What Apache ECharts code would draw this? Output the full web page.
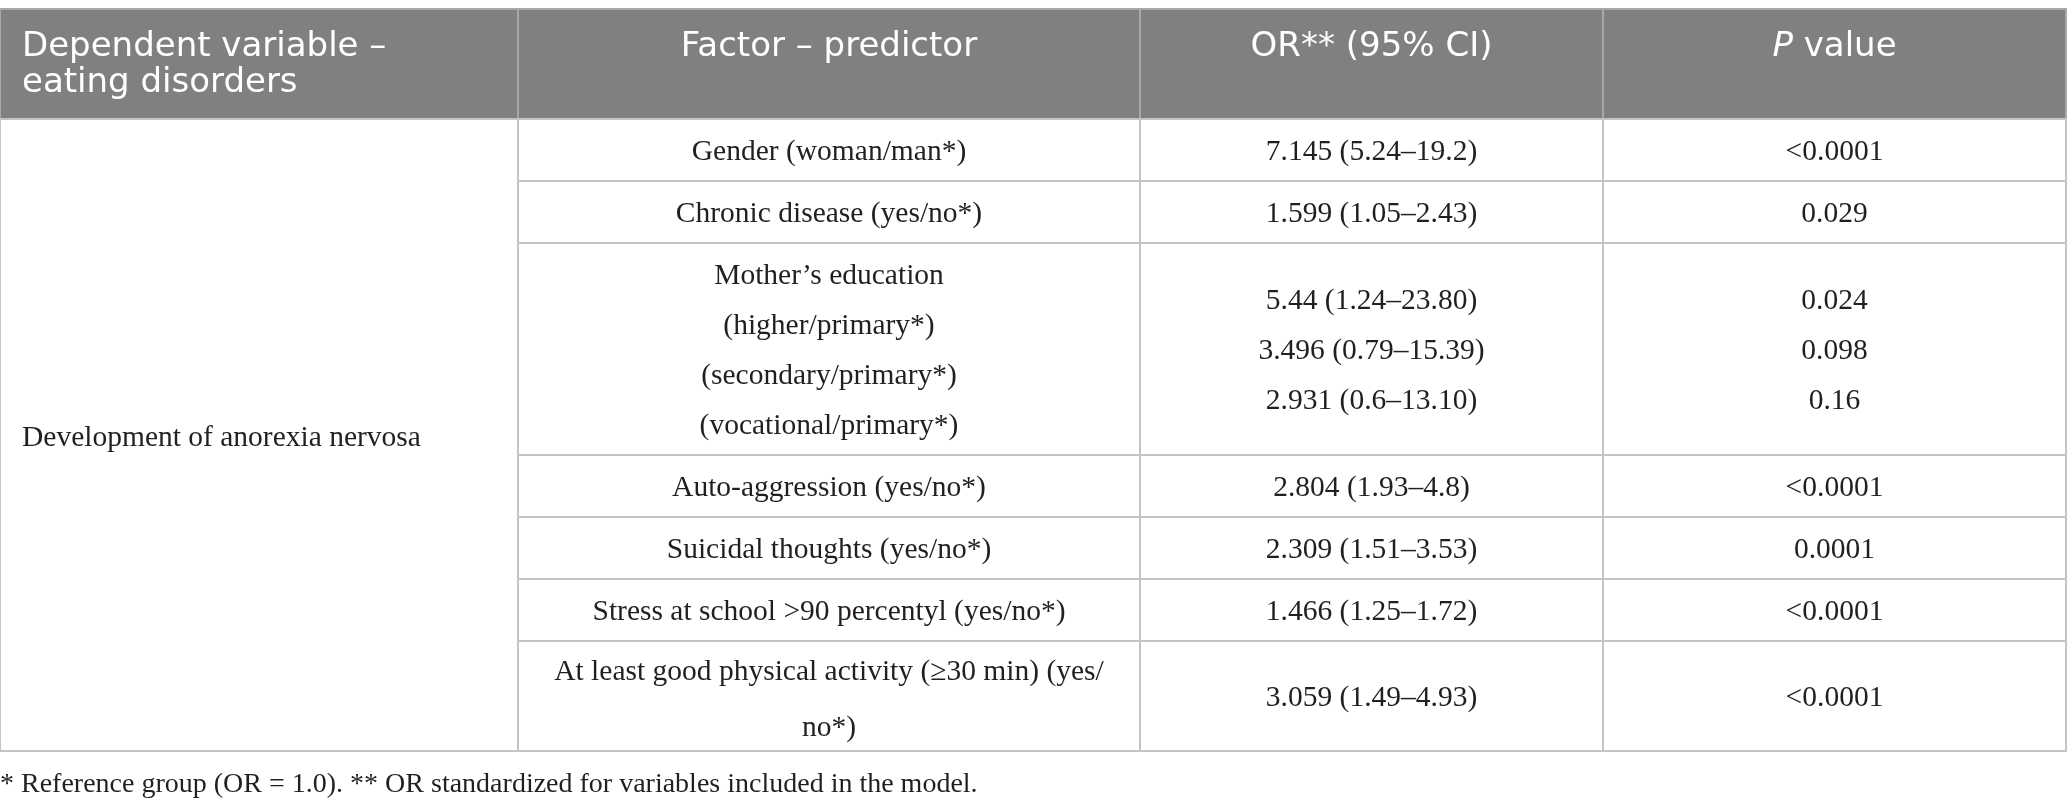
<!DOCTYPE html>
<html lang="en">
<head>
    <meta charset="UTF-8">
    <script src="https://cdn.jsdelivr.net/npm/echarts@6.0.0/dist/echarts.min.js"></script>
    <title>Anorexia nervosa predictors</title>
    <style>
        html,
        body {
            margin: 0;
            padding: 0;
            background: #fff;
            overflow: hidden;
        }
        #main {
            width: 2067px;
            height: 811px;
        }
    </style>
</head>
<body>
<div id="main"></div>
<script>
    // table content
    var headers = ['Dependent variable –\neating disorders', 'Factor – predictor', 'OR** (95% CI)', '{i|P} value'];
    var dependentVar = 'Development of anorexia nervosa';
    var factors = [
        'Gender (woman/man*)',
        'Chronic disease (yes/no*)',
        'Mother’s education\n(higher/primary*)\n(secondary/primary*)\n(vocational/primary*)',
        'Auto-aggression (yes/no*)',
        'Suicidal thoughts (yes/no*)',
        'Stress at school >90 percentyl (yes/no*)',
        'At least good physical activity (≥30 min) (yes/\nno*)'
    ];
    var orValues = [
        '7.145 (5.24–19.2)',
        '1.599 (1.05–2.43)',
        '5.44 (1.24–23.80)\n3.496 (0.79–15.39)\n2.931 (0.6–13.10)',
        '2.804 (1.93–4.8)',
        '2.309 (1.51–3.53)',
        '1.466 (1.25–1.72)',
        '3.059 (1.49–4.93)'
    ];
    var pValues = ['<0.0001', '0.029', '0.024\n0.098\n0.16', '<0.0001', '0.0001', '<0.0001', '<0.0001'];
    var footnote = '* Reference group (OR = 1.0). ** OR standardized for variables included in the model.';

    // layout (table units)
    var colWidths = [518, 622, 463, 463];
    var headerHeight = 110;
    var rowHeights = [62, 62, 212, 62, 62, 62, 110];

    var xs = [0];
    colWidths.forEach(function (w, i) { xs.push(xs[i] + w); });
    var ys = [headerHeight];
    rowHeights.forEach(function (h, i) { ys.push(ys[i] + h); });
    var totalW = xs[xs.length - 1];
    var totalH = ys[ys.length - 1];

    // cells: [x0, x1, y0, y1, kind, text, col, lineHeight, yShift]
    var cells = [];
    headers.forEach(function (t, c) {
        cells.push([xs[c], xs[c + 1], 0, headerHeight, 'head', t, c]);
    });
    cells.push([xs[0], xs[1], headerHeight, totalH, 'dep', dependentVar, 0]);
    factors.forEach(function (f, r) {
        var last = r === factors.length - 1;
        var lh = last ? 56 : 50;
        var dy = last ? 4 : 2;
        cells.push([xs[1], xs[2], ys[r], ys[r + 1], 'body', f, 1, lh, dy]);
        cells.push([xs[2], xs[3], ys[r], ys[r + 1], 'body', orValues[r], 2, lh, 2]);
        cells.push([xs[3], xs[4], ys[r], ys[r + 1], 'body', pValues[r], 3, lh, 2]);
    });

    var headFont = 'DejaVu Sans';
    var bodyFont = 'Liberation Serif';
    var bodySize = 29.5;

    function renderCell(params, api) {
        var d = cells[params.dataIndex];
        var p0 = api.coord([d[0], d[2]]);
        var p1 = api.coord([d[1], d[3]]);
        var x = Math.min(p0[0], p1[0]), y = Math.min(p0[1], p1[1]);
        var w = Math.abs(p1[0] - p0[0]), h = Math.abs(p1[1] - p0[1]);
        var kind = d[4];
        var rect = {
            type: 'rect',
            shape: {x: x, y: y, width: w, height: h},
            style: {
                fill: kind === 'head' ? '#808080' : '#fff',
                stroke: kind === 'head' ? '#a8a8a8' : '#c4c4c4',
                lineWidth: 2
            }
        };
        var text;
        if (kind === 'head') {
            text = {
                type: 'text',
                style: {
                    text: d[5],
                    x: d[6] === 0 ? x + 22 : x + w / 2,
                    y: y + 20,
                    align: d[6] === 0 ? 'left' : 'center',
                    verticalAlign: 'top',
                    fontFamily: headFont,
                    fontSize: 34,
                    lineHeight: 36,
                    fill: '#fff',
                    rich: {
                        i: {fontFamily: headFont, fontSize: 34, fontStyle: 'italic', fill: '#fff', lineHeight: 36}
                    }
                }
            };
        } else if (kind === 'dep') {
            text = {
                type: 'text',
                style: {
                    text: d[5],
                    x: x + 22,
                    y: y + h / 2 + 3,
                    align: 'left',
                    verticalAlign: 'middle',
                    fontFamily: bodyFont,
                    fontSize: bodySize,
                    fill: '#231f20'
                }
            };
        } else {
            text = {
                type: 'text',
                style: {
                    text: d[5],
                    x: x + w / 2,
                    y: y + h / 2 + d[8],
                    align: 'center',
                    verticalAlign: 'middle',
                    fontFamily: bodyFont,
                    fontSize: bodySize,
                    lineHeight: d[7],
                    fill: '#231f20'
                }
            };
        }
        return {type: 'group', children: [rect, text]};
    }

    var myChart = echarts.init(document.getElementById('main'));
    var option = {
        backgroundColor: '#fff',
        animation: false,
        title: {
            text: footnote,
            left: 0,
            top: 771,
            padding: 0,
            textStyle: {fontFamily: bodyFont, fontSize: 28, fontWeight: 'normal', color: '#231f20'}
        },
        grid: {left: 0, top: 9, width: totalW, height: totalH},
        xAxis: {type: 'value', min: 0, max: totalW, show: false},
        yAxis: {type: 'value', min: 0, max: totalH, inverse: true, show: false},
        series: [{
            type: 'custom',
            renderItem: renderCell,
            encode: {x: [0, 1], y: [2, 3]},
            data: cells.map(function (c) { return [c[0], c[1], c[2], c[3]]; })
        }]
    };
    myChart.setOption(option);
</script>
</body>
</html>
